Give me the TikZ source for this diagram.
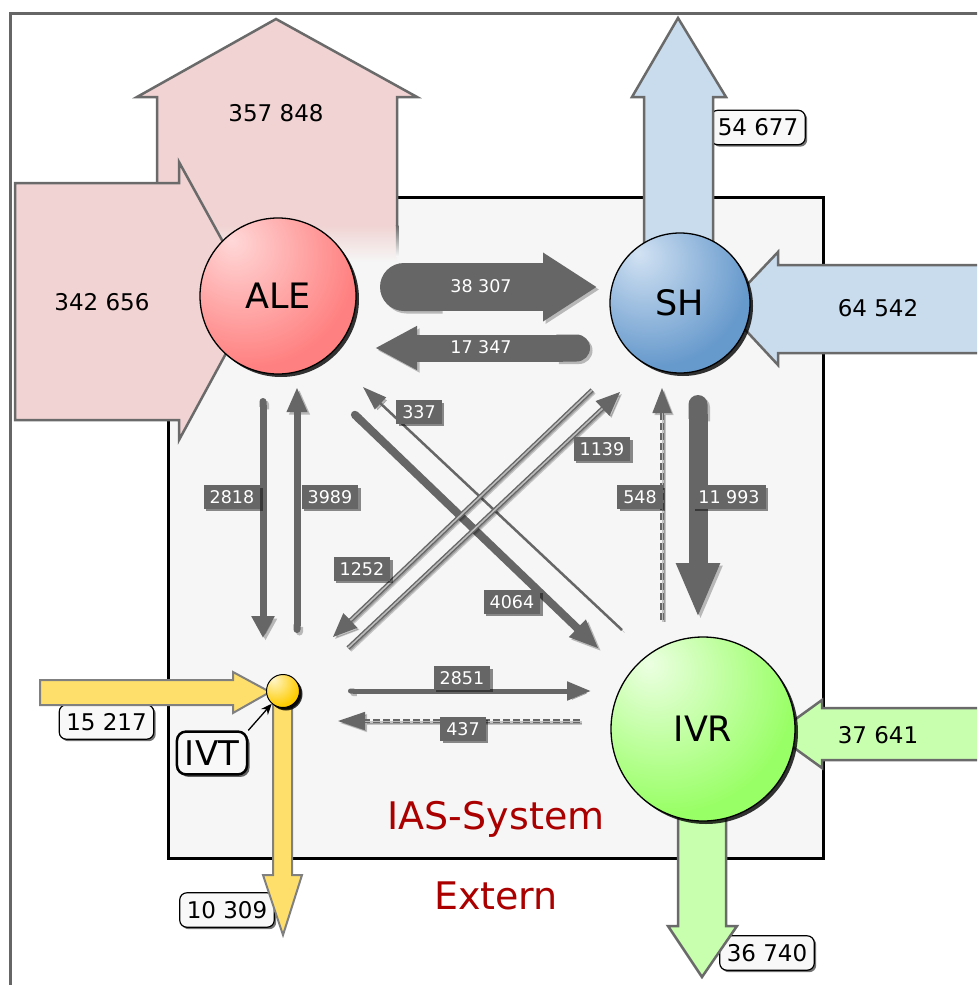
\documentclass[tikz,border=0pt]{standalone}
\usepackage{fontspec}
\setmainfont{DejaVu Sans}
\usetikzlibrary{arrows.meta,shadows}
\definecolor{framegray}{HTML}{666666}
\definecolor{boxbg}{HTML}{F6F6F6}
\definecolor{bordergray}{HTML}{6A6A6A}
\definecolor{pinkfill}{HTML}{F0D3D2}
\definecolor{bluefill}{HTML}{C9DCEE}
\definecolor{greenfill}{HTML}{C8FFAE}
\definecolor{yellowfill}{HTML}{FFDF6B}
\definecolor{flowc}{HTML}{666666}
\definecolor{lblbg}{HTML}{F8F8F8}
\definecolor{iasred}{HTML}{AA0000}
\definecolor{alemain}{HTML}{FF8080}
\definecolor{alelight}{HTML}{FFD8D8}
\definecolor{shmain}{HTML}{6699CC}
\definecolor{shlight}{HTML}{D2E2F3}
\definecolor{ivrmain}{HTML}{99FF66}
\definecolor{ivrlight}{HTML}{ECFFE2}
\definecolor{ivtmain}{HTML}{FFCC00}
\definecolor{ivtlight}{HTML}{FFF6C8}
\pgfdeclareradialshading{aleshade}{\pgfpoint{-15bp}{18bp}}{color(0bp)=(alelight); color(34bp)=(alemain); color(90bp)=(alemain)}
\pgfdeclareradialshading{shshade}{\pgfpoint{-15bp}{18bp}}{color(0bp)=(shlight); color(34bp)=(shmain); color(90bp)=(shmain)}
\pgfdeclareradialshading{ivrshade}{\pgfpoint{-15bp}{18bp}}{color(0bp)=(ivrlight); color(34bp)=(ivrmain); color(90bp)=(ivrmain)}
\pgfdeclareradialshading{ivtshade}{\pgfpoint{-15bp}{18bp}}{color(0bp)=(ivtlight); color(34bp)=(ivtmain); color(90bp)=(ivtmain)}
\newcommand*\fsz[1]{\fontsize{#1}{#1}\selectfont}
\begin{document}
\begin{tikzpicture}[x=1pt,y=-1pt,
  fat/.style={draw=bordergray, line width=2.5pt, line join=miter, miter limit=10},
  fatyel/.style={draw=gray, line width=2pt, line join=miter, miter limit=10, fill=yellowfill},
  bignum/.style={font=\fsz{23}, inner sep=0pt},
  whitelbl/.style={draw=black, line width=1.2pt, fill=lblbg, rounded corners=7pt, font=\fsz{23}, inner xsep=7pt, inner ysep=8.5pt, drop shadow={shadow xshift=2pt, shadow yshift=-2pt, opacity=.55, fill=black}},
  flowlbl/.style={fill=flowc, text=white, font=\fsz{17.5}, inner xsep=6pt, inner ysep=5pt, drop shadow={shadow xshift=2.5pt, shadow yshift=-2.5pt, opacity=.45, fill=black}},
  flowtxt/.style={text=white, font=\fsz{17.5}, inner sep=0pt},
  flow/.style={draw=flowc, preaction={draw=black, opacity=.25, transform canvas={xshift=2.5pt, yshift=-2.5pt}}},
  flowdouble/.style={draw=flowc, line width=1.4pt, double=boxbg!60!flowc, double distance=1.6pt, preaction={draw=black, double=black, opacity=.2, transform canvas={xshift=2pt, yshift=-2pt}}},
  flowdash/.style={draw=flowc, line width=1.5pt, double=flowc!45, double distance=1pt, dash pattern=on 7pt off 3pt, preaction={draw=black, double=black, opacity=.2, transform canvas={xshift=2pt, yshift=-2pt}}},
  nodeball/.style={circle, inner sep=0pt, draw=black, line width=1.3pt, shade, drop shadow={shadow xshift=3pt, shadow yshift=-3pt, opacity=.8, fill=black}},
  balltxt/.style={font=\fsz{35}},
]
\useasboundingbox (0,0) rectangle (977,985);
\clip (0,0) rectangle (977,985);
\fill[white] (0,0) rectangle (977,985);
% outer frame
\draw[framegray, line width=3pt] (10,995) -- (10,13) -- (990,13);
% IAS system box
\draw[black, line width=3pt, fill=boxbg] (168,197) rectangle (823,858);

% ALE big up arrow (out)
\fill[pinkfill] (157,226) -- (157,97) -- (137,97) -- (276,19) -- (417,97) -- (397,97) -- (397,226) -- cycle;
\shade[top color=pinkfill, bottom color=boxbg] (157,225) rectangle (397,262);
\draw[fat] (157,226) -- (157,97) -- (137,97) -- (276,19) -- (417,97) -- (397,97) -- (397,226);
\shade[top color=bordergray, bottom color=boxbg] (395.75,225) rectangle (398.25,256);
% ALE left arrow (in)
\filldraw[fat, fill=pinkfill] (15,183) -- (179,183) -- (179,162) -- (255,300) -- (179,440) -- (179,420) -- (15,420) -- cycle;
\node[bignum] (n357) at (276,113) {357 848};
\node[bignum] (n342) at (102,302) {342 656};

% SH arrows
\node[whitelbl] (n54) at (758,127.5) {54 677};
\filldraw[fat, fill=bluefill] (644,300) -- (644,97) -- (632,97) -- (678,18) -- (726,97) -- (713,97) -- (713,300) -- cycle;
\filldraw[fat, fill=bluefill] (990,265) -- (778,265) -- (778,252) -- (725,308) -- (778,365) -- (778,353) -- (990,353) -- cycle;
\node[bignum] (n64) at (878,308.5) {64 542};

% IVR arrows
\node[whitelbl] (n36) at (767,953) {36 740};
\filldraw[fat, fill=greenfill] (678,760) -- (678,926) -- (668,926) -- (702,977) -- (737,926) -- (726,926) -- (726,760) -- cycle;
\filldraw[fat, fill=greenfill] (990,708) -- (822,708) -- (822,700) -- (775,734) -- (822,768) -- (822,760) -- (990,760) -- cycle;
\node[bignum] (n37) at (878,735) {37 641};

% IVT arrows
\node[whitelbl] (n15) at (106.5,722) {15 217};
\node[whitelbl] (n10) at (227,910) {10 309};
\draw[fatyel] (40,680) -- (233,680) -- (233,672) -- (270,692) -- (233,713) -- (233,705) -- (40,705) -- cycle;
\draw[fatyel] (273,692) -- (273,875) -- (263,875) -- (283,935) -- (302,875) -- (292,875) -- (292,692) -- cycle;

% internal flows
\coordinate (a1) at (380,287); \coordinate (b1) at (597,287);
\coordinate (a2) at (590,348); \coordinate (b2) at (375,348);
\coordinate (a3) at (263,398); \coordinate (b3) at (263,638);
\coordinate (a4) at (297,633); \coordinate (b4) at (297,387);
\coordinate (a5) at (622,630); \coordinate (b5) at (363,387);
\coordinate (a6) at (352,412); \coordinate (b6) at (599,649);
\coordinate (a7) at (592,390); \coordinate (b7) at (333,637);
\coordinate (a8) at (348,648); \coordinate (b8) at (620,392);
\coordinate (a9) at (662,620); \coordinate (b9) at (662,388);
\coordinate (a10) at (698,395); \coordinate (b10) at (698,618);
\coordinate (a11) at (348,691); \coordinate (b11) at (591,691);
\coordinate (a12) at (580,721); \coordinate (b12) at (338,721);

\draw[flow, line width=48pt, {Round Cap[]}-{Triangle[length=54pt,width=65pt]}] (a1) -- (b1);
\draw[flow, line width=27pt, {Round Cap[]}-{Triangle[length=42pt,width=41pt]}] (a2) -- (b2);
\draw[flow, line width=7pt, {Round Cap[]}-{Triangle[length=22pt,width=22pt]}] (a3) -- (b3);
\draw[flow, line width=7pt, {Round Cap[]}-{Triangle[length=25pt,width=19pt]}] (a4) -- (b4);
\draw[flow, line width=2.5pt, -{Triangle[length=24pt,width=16pt]}] (a5) -- (b5);
\draw[flow, line width=8pt, {Round Cap[]}-{Triangle[length=30pt,width=22pt]}] (a6) -- (b6);
\draw[flowdouble, -{Triangle[length=24pt,width=20pt]}] (a7) -- (b7);
\draw[flowdouble, -{Triangle[length=24pt,width=20pt]}] (a8) -- (b8);
\draw[flowdash, -{Triangle[length=25pt,width=19pt]}] (a9) -- (b9);
\draw[flow, line width=19pt, {Round Cap[]}-{Triangle[length=55pt,width=40pt]}] (a10) -- (b10);
\draw[flow, line width=5pt, {Round Cap[]}-{Triangle[length=24pt,width=18pt]}] (a11) -- (b11);
\draw[flowdash, -{Triangle[length=27pt,width=18pt]}] (a12) -- (b12);

\node[flowtxt] (t1) at (481,286) {38 307};
\node[flowtxt] (t2) at (481,347.5) {17 347};
\node[flowlbl] (t3) at (232,497) {2818};
\node[flowlbl] (t4) at (330,497) {3989};
\node[flowlbl] (t5) at (419,412) {337};
\node[flowlbl] (t6) at (512,602) {4064};
\node[flowlbl] (t7) at (362,569) {1252};
\node[flowlbl] (t8) at (602,449) {1139};
\node[flowlbl] (t9) at (640,497) {548};
\node[flowlbl] (t10) at (729,497) {11 993};
\node[flowlbl] (t11) at (462,678) {2851};
\node[flowlbl] (t12) at (463,729) {437};

% circles
\node[nodeball, minimum size=156pt, shading=aleshade, balltxt] (ale) at (278,296) {ALE};
\node[nodeball, minimum size=140pt, shading=shshade, balltxt] (sh) at (680,303) {SH};
\node[nodeball, minimum size=184pt, shading=ivrshade, balltxt] (ivr) at (703,729) {IVR};
\node[nodeball, minimum size=33pt, line width=1pt, shading=ivtshade, drop shadow={shadow xshift=2pt, shadow yshift=-2pt, opacity=.8, fill=black}] (ivt) at (283,691) {};

% IVT label
\node[draw=black, line width=2.5pt, fill=lblbg, rounded corners=9pt, font=\fsz{34}, inner xsep=8pt, inner ysep=9pt, drop shadow={shadow xshift=2.5pt, shadow yshift=-2.5pt, opacity=.6, fill=black}] (ivtlbl) at (212,753) {IVT};
\draw[black, line width=1.3pt, -{Stealth[length=11pt,width=9pt]}] (ivtlbl.north east) -- (ivt);

% system labels
\node[anchor=base, font=\fsz{38}, text=iasred, inner sep=0pt] (ias) at (496,829) {IAS-System};
\node[anchor=base, font=\fsz{38}, text=iasred, inner sep=0pt] (ext) at (496,909) {Extern};
\end{tikzpicture}
\end{document}
